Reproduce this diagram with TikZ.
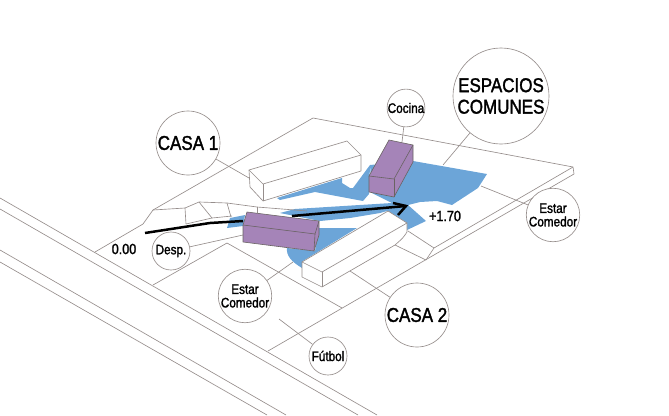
\documentclass[tikz,border=0pt]{standalone}
\usepackage{fontspec}
\setmainfont[FakeStretch=0.85,FakeBold=1.6]{Liberation Sans}
\definecolor{ln}{HTML}{968E8C}
\definecolor{blu}{HTML}{6CA5D8}
\definecolor{pur}{HTML}{A584B8}
\tikzset{
  ln/.style={draw=ln,line width=0.65pt,line join=round},
  bl/.style={fill=blu,draw=none},
  wall/.style={ln,fill=white},
  vol/.style={draw=ln!70!black,line width=0.6pt,fill=pur,line join=round},
  bub/.style={circle,ln,fill=white,inner sep=0pt,align=center},
  big/.style={bub,font=\fontsize{20}{21.5}\selectfont},
  small/.style={bub,font=\fontsize{13.8}{13.5}\selectfont},
  lev/.style={inner sep=0pt,font=\fontsize{14.8}{15}\selectfont},
  flow/.style={draw=black,line width=2.5pt}
}
\begin{document}
\begin{tikzpicture}[x=1pt,y=-1pt]
\useasboundingbox (0,0) rectangle (669,415);
% blue
\fill[bl] (370,165)--(413,161)--(487,174)--(478,188)--(452,205)--(437,201)--(420,202)--(408,205)--(426,221)--(407,230)--(407,223)--(387,211)--(380,213)--(350,218)--(320,221)--(280,213)--(295,209)--(392,203)--(372,193)--cycle;
\fill[bl] (277,198)--(342,178)--(342,183)--(350,188)--(353,188)--(370,165)--(369,194)--(363,201)--(315,192)--(280,200)--cycle;
\fill[bl] (230,218)--(245,215)--(243,226)--(227,228)--cycle;
\fill[bl] (319,228)--(357,228)--(303,261)--(302,268) .. controls (292,262) and (286,256) .. (287,248)--(315,251)--cycle;
% roads
\draw[ln] (0,198)--(377,415);
\draw[ln] (0,209)--(358,415);
\draw[ln] (0,250)--(286,415);
\draw[ln] (0,262)--(267,415);
% site
\draw[ln] (95,252)--(143,224)--(153,210)--(313,118)--(573,167)--(574,174)--(268,351);
\draw[ln] (573,167)--(434,248)--(426,260);
\draw[ln] (408,231)--(434,248);
\draw[ln] (395,245)--(426,260);
\draw[ln] (153,285)--(227,243)--(342,308);
% terraces
\draw[ln] (153,210)--(185,208)--(199,202)--(227,203)--(257,207)--(307,211);
\draw[ln] (186,224)--(212,218)--(232,216);
\draw[ln] (185,208)--(186,224);
\draw[ln] (199,202)--(212,218);
\draw[ln] (227,203)--(231,217);
\draw[ln] (257,207)--(257,213);
% named coordinates for leaders
\coordinate (p1) at (249,178);
\coordinate (p2) at (243,235);
\coordinate (p3) at (402,142);
\coordinate (p4) at (443,165);
\coordinate (p5) at (481,186);
\coordinate (p6) at (293,262);
\coordinate (p7) at (350,271);
\coordinate (p8) at (279,319);
% bubbles
\node[big,minimum size=64pt] (casa1) at (188,143) {CASA 1};
\node[big,minimum size=64pt] (casa2) at (417,315) {CASA 2};
\node[big,minimum size=96pt] (esp) at (501,96) {ESPACIOS\\COMUNES};
\node[small,minimum size=38pt] (desp) at (171,251) {Desp.};
\node[small,minimum size=35pt] (coc) at (406,108) {Cocina};
\node[small,minimum size=48pt] (estR) at (553,215) {Estar\\Comedor};
\node[small,minimum size=48pt] (estL) at (245,296) {Estar\\Comedor};
\node[small,minimum size=38pt] (fut) at (328,356) {Fútbol};
% leaders
\draw[ln] (casa1)--(p1);
\draw[ln] (desp)--(p2);
\draw[ln] (coc)--(p3);
\draw[ln] (esp)--(p4);
\draw[ln] (estR)--(p5);
\draw[ln] (estL)--(p6);
\draw[ln] (casa2)--(p7);
\draw[ln] (fut)--(p8);
% casa 1 block
\draw[wall] (249,170)--(347,141)--(361,155)--(361,171)--(263,201)--(250,187)--cycle;
\draw[ln] (249,170)--(263,184)--(361,155);
\draw[ln] (263,184)--(263,201);
% casa 2 block
\draw[wall] (302,262)--(388,211)--(407,223)--(407,232) .. controls (403,238) .. (395,245)--(322,287)--(302,277)--cycle;
\draw[ln] (302,262)--(322,272)--(407,223);
\draw[ln] (322,272)--(322,287);
% purple volumes
\draw[vol] (247,212)--(319,221)--(319,235)--(314,251)--(243,242)--(243,225)--cycle;
\draw[vol,fill=none] (243,225)--(315,234)--(319,221);
\draw[vol,fill=none] (315,234)--(314,251);
\draw[vol] (389,140)--(413,145)--(413,162)--(394,197)--(369,192)--(369,176)--cycle;
\draw[vol,fill=none] (369,176)--(394,179)--(413,145);
\draw[vol,fill=none] (394,179)--(394,197);
% flow arrow
\coordinate (a0) at (145,233);
\coordinate (a1) at (210,223);
\coordinate (a2) at (243,221);
\coordinate (a3) at (292,216);
\coordinate (a4) at (406,206);
\coordinate (h1) at (393,203);
\coordinate (h2) at (398,215);
\draw[flow] (a0)--(a1)--(a2);
\draw[flow] (a3)--(a4);
\draw[flow,line join=miter] (h1)--(a4)--(h2);
% levels
\node[lev] (l0) at (124,249) {0.00};
\node[lev] (l1) at (445,216) {+1.70};
\end{tikzpicture}
\end{document}
